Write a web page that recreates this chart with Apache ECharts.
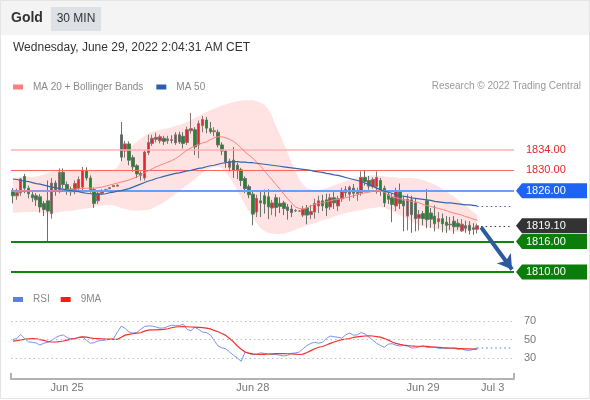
<!DOCTYPE html>
<html>
<head>
<meta charset="utf-8">
<script src="https://cdn.jsdelivr.net/npm/echarts@6/dist/echarts.min.js"></script>
<style>
  html, body { margin: 0; padding: 0; background: #fff; }
  #chart { width: 590px; height: 400px; }
</style>
</head>
<body>
<div id="chart"></div>
<script>
// 30 min gold candles
const opens = [
  1826.0, 1825.0, 1825.6, 1828.8, 1826.5, 1825.2, 1825.0, 1824.8, 1823.5, 1824.0,
  1821.5, 1827.5, 1826.0, 1829.6, 1827.2, 1826.3, 1825.8, 1826.4, 1826.7, 1830.0,
  1828.5, 1826.2, 1824.0, 1825.5, 1826.0, 1826.4, 1826.8, 1826.9, 1837.0, 1833.8,
  1835.2, 1832.5, 1830.9, 1829.4, 1828.5, 1833.5, 1835.3, 1836.1, 1835.8, 1836.3,
  1835.8, 1836.0, 1835.4, 1837.0, 1836.7, 1835.5, 1837.8, 1838.0, 1835.0, 1838.8,
  1839.9, 1838.2, 1837.6, 1837.5, 1835.0, 1833.8, 1830.6, 1832.0, 1831.0, 1830.1,
  1828.4, 1826.8, 1825.3, 1821.8, 1824.0, 1825.0, 1824.8, 1822.6, 1824.6, 1823.5,
  1823.6, 1822.8, 1822.4, 1822.0, 1822.0, 1821.2, 1822.6, 1821.3, 1821.8, 1823.0,
  1824.0, 1824.2, 1822.8, 1824.6, 1823.0, 1824.4, 1826.2, 1825.3, 1826.5, 1825.4,
  1825.6, 1828.6, 1828.0, 1826.8, 1826.8, 1828.0, 1826.5, 1825.2, 1824.6, 1823.0,
  1826.0, 1824.0, 1821.0, 1824.2, 1823.6, 1820.6, 1821.5, 1824.0, 1821.6, 1821.0,
  1819.9, 1820.5, 1819.8, 1819.4, 1820.0, 1819.6, 1818.1, 1819.1, 1819.2, 1818.7,
  1818.4
];
const closes = [
  1825.0, 1825.6, 1828.3, 1826.5, 1825.4, 1824.6, 1824.2, 1822.8, 1822.3, 1822.0,
  1827.5, 1826.0, 1829.6, 1827.2, 1826.0, 1825.8, 1827.4, 1828.2, 1830.0, 1828.5,
  1826.2, 1823.5, 1825.5, 1825.8, 1826.2, 1826.6, 1827.0, 1827.1, 1832.6, 1835.2,
  1832.0, 1830.7, 1829.3, 1829.0, 1833.6, 1835.5, 1836.3, 1836.5, 1836.6, 1835.7,
  1836.2, 1835.9, 1837.0, 1835.6, 1835.3, 1838.0, 1838.2, 1834.6, 1839.2, 1840.0,
  1838.3, 1837.6, 1837.8, 1835.0, 1833.8, 1831.6, 1831.8, 1830.0, 1830.1, 1828.0,
  1826.4, 1825.2, 1821.4, 1824.5, 1823.6, 1823.4, 1822.8, 1823.6, 1822.7, 1822.9,
  1822.5, 1822.1, 1821.7, 1822.1, 1822.0, 1822.4, 1821.2, 1821.9, 1823.5, 1824.0,
  1823.0, 1822.6, 1824.6, 1823.6, 1824.4, 1826.0, 1825.6, 1826.7, 1825.5, 1825.8,
  1828.6, 1827.8, 1826.9, 1828.2, 1828.6, 1826.2, 1823.6, 1824.3, 1823.3, 1826.0,
  1823.5, 1823.0, 1824.3, 1821.3, 1820.5, 1821.3, 1820.5, 1820.3, 1820.4, 1819.5,
  1820.5, 1819.5, 1819.2, 1819.3, 1818.9, 1818.9, 1819.4, 1818.6, 1818.2, 1818.4,
  1819.1
];
const lows = [
  1823.5, 1824.2, 1825.0, 1825.5, 1824.5, 1823.8, 1823.0, 1821.7, 1821.0, 1816.0,
  1820.5, 1825.0, 1825.5, 1826.5, 1825.2, 1825.0, 1825.3, 1825.8, 1826.0, 1828.0,
  1825.6, 1822.6, 1823.4, 1825.2, 1825.9, 1826.3, 1826.7, 1826.8, 1831.8, 1832.5,
  1831.0, 1829.7, 1828.5, 1828.0, 1828.0, 1833.0, 1834.8, 1835.5, 1835.3, 1835.0,
  1835.2, 1835.3, 1835.0, 1835.2, 1834.3, 1835.0, 1837.2, 1833.0, 1832.4, 1837.5,
  1837.3, 1837.2, 1836.7, 1834.5, 1833.0, 1830.5, 1829.8, 1828.5, 1828.3, 1826.9,
  1825.5, 1824.5, 1819.2, 1820.8, 1820.8, 1821.5, 1820.4, 1821.2, 1820.9, 1821.6,
  1821.2, 1820.3, 1820.8, 1821.8, 1821.9, 1820.8, 1819.4, 1820.4, 1820.5, 1821.6,
  1822.0, 1821.0, 1822.2, 1822.4, 1822.0, 1823.8, 1824.8, 1824.0, 1824.6, 1824.0,
  1825.0, 1827.0, 1826.2, 1826.4, 1825.4, 1825.0, 1822.8, 1823.4, 1819.8, 1822.0,
  1822.4, 1818.0, 1818.2, 1817.7, 1818.0, 1818.2, 1819.2, 1818.6, 1818.7, 1818.0,
  1818.6, 1817.8, 1817.7, 1818.3, 1817.5, 1818.3, 1817.9, 1817.7, 1817.4, 1817.3,
  1817.6
];
const highs = [
  1826.5, 1826.4, 1828.5, 1829.3, 1827.0, 1825.8, 1825.5, 1825.3, 1824.0, 1828.0,
  1828.5, 1828.0, 1830.4, 1830.4, 1827.8, 1826.8, 1828.0, 1828.8, 1830.7, 1830.6,
  1829.0, 1826.6, 1826.0, 1826.3, 1826.4, 1826.7, 1827.1, 1827.2, 1839.5, 1835.8,
  1835.7, 1833.0, 1831.2, 1829.8, 1834.0, 1837.0, 1837.0, 1837.4, 1837.0, 1836.8,
  1836.8, 1836.9, 1837.5, 1837.6, 1837.5, 1838.6, 1841.3, 1838.5, 1839.8, 1840.7,
  1840.5, 1839.5, 1838.5, 1838.0, 1835.5, 1834.0, 1832.3, 1834.6, 1831.5, 1830.5,
  1828.8, 1827.2, 1825.8, 1825.2, 1826.0, 1826.2, 1826.3, 1824.2, 1825.3, 1824.7,
  1824.0, 1823.4, 1823.2, 1822.4, 1822.2, 1823.0, 1823.2, 1823.2, 1824.4, 1825.0,
  1825.2, 1825.4, 1825.4, 1825.7, 1825.0, 1826.6, 1826.9, 1827.0, 1827.3, 1826.6,
  1829.8, 1830.1, 1828.9, 1828.6, 1829.8, 1828.5, 1827.0, 1826.0, 1825.5, 1826.6,
  1827.4, 1825.0, 1825.3, 1825.0, 1824.5, 1822.2, 1822.0, 1826.3, 1822.6, 1823.1,
  1821.8, 1821.5, 1821.0, 1820.8, 1821.0, 1820.4, 1820.4, 1820.1, 1820.0, 1819.6,
  1819.5
];

// moving averages and bands
const ma20 = [
  1825.9, 1825.9, 1826.0, 1826.0, 1826.0, 1825.9, 1825.9, 1825.9, 1825.9, 1825.9,
  1826.0, 1826.1, 1826.1, 1826.2, 1826.2, 1826.3, 1826.3, 1826.4, 1826.4, 1826.5,
  1826.5, 1826.5, 1826.6, 1826.7, 1826.9, 1827.1, 1827.3, 1827.5, 1827.7, 1827.9,
  1828.1, 1828.4, 1828.7, 1829.1, 1829.5, 1829.9, 1830.3, 1830.7, 1831.0, 1831.3,
  1831.6, 1831.9, 1832.3, 1832.8, 1833.4, 1834.0, 1834.4, 1834.8, 1835.1, 1835.4,
  1835.6, 1836.0, 1836.4, 1836.6, 1836.6, 1836.4, 1836.1, 1835.7, 1835.1, 1834.4,
  1833.6, 1833.0, 1832.4, 1831.6, 1830.8, 1829.9, 1829.0, 1828.1, 1827.2, 1826.3,
  1825.3, 1824.4, 1823.6, 1822.8, 1822.5, 1822.4, 1822.6, 1823.0, 1823.3, 1823.5,
  1823.6, 1823.8, 1824.0, 1824.2, 1824.3, 1824.5, 1824.6, 1824.8, 1825.0, 1825.2,
  1825.4, 1825.6, 1825.7, 1825.9, 1826.1, 1826.0, 1825.7, 1825.1, 1824.9, 1824.6,
  1824.4, 1824.3, 1824.1, 1823.9, 1823.8, 1823.6, 1823.3, 1823.1, 1822.9, 1822.7,
  1822.5, 1822.3, 1822.1, 1821.8, 1821.6, 1821.4, 1821.2, 1820.9, 1820.7, 1820.4,
  1820.2
];
const ma50 = [
  1828.3, 1828.2, 1828.0, 1827.9, 1827.8, 1827.6, 1827.4, 1827.3, 1827.1, 1826.9,
  1826.7, 1826.6, 1826.4, 1826.3, 1826.1, 1826.0, 1825.9, 1825.8, 1825.6, 1825.5,
  1825.4, 1825.4, 1825.3, 1825.3, 1825.4, 1825.6, 1825.7, 1825.9, 1826.0, 1826.2,
  1826.4, 1826.7, 1827.0, 1827.3, 1827.6, 1827.9, 1828.1, 1828.4, 1828.6, 1828.8,
  1829.0, 1829.2, 1829.4, 1829.5, 1829.7, 1829.9, 1830.0, 1830.2, 1830.4, 1830.5,
  1830.7, 1830.9, 1831.0, 1831.2, 1831.4, 1831.5, 1831.6, 1831.7, 1831.7, 1831.6,
  1831.6, 1831.5, 1831.5, 1831.4, 1831.3, 1831.2, 1831.1, 1831.0, 1830.9, 1830.8,
  1830.7, 1830.6, 1830.5, 1830.4, 1830.3, 1830.2, 1830.1, 1830.0, 1829.8, 1829.7,
  1829.6, 1829.4, 1829.3, 1829.1, 1829.0, 1828.8, 1828.6, 1828.4, 1828.2, 1828.0,
  1827.8, 1827.5, 1827.2, 1826.9, 1826.5, 1826.2, 1825.9, 1825.7, 1825.5, 1825.2,
  1825.0, 1824.9, 1824.8, 1824.6, 1824.5, 1824.4, 1824.3, 1824.2, 1824.1, 1823.9,
  1823.8, 1823.7, 1823.6, 1823.6, 1823.5, 1823.4, 1823.3, 1823.2, 1823.2, 1823.1,
  1823.0
];
const bbUpper = [
  1828.5, 1828.6, 1828.7, 1828.8, 1828.8, 1828.7, 1828.8, 1829.0, 1829.2, 1829.5,
  1829.7, 1829.8, 1829.9, 1830.0, 1830.1, 1830.1, 1830.2, 1830.2, 1830.2, 1830.1,
  1830.1, 1830.0, 1830.0, 1829.9, 1829.9, 1829.9, 1830.0, 1830.6, 1832.0, 1833.3,
  1834.4, 1835.0, 1835.6, 1836.2, 1836.8, 1837.3, 1837.6, 1837.8, 1838.0, 1838.1,
  1838.3, 1838.5, 1838.7, 1838.9, 1839.2, 1839.5, 1839.9, 1840.3, 1840.7, 1841.1,
  1841.5, 1841.8, 1842.1, 1842.4, 1842.7, 1843.0, 1843.2, 1843.4, 1843.6, 1843.7,
  1843.8, 1843.8, 1843.8, 1843.6, 1843.3, 1842.9, 1842.0, 1840.6, 1838.6, 1837.0,
  1835.3, 1833.4, 1831.5, 1829.8, 1828.2, 1827.2, 1826.5, 1826.2, 1826.0, 1826.1,
  1826.3, 1826.5, 1826.8, 1827.0, 1827.3, 1827.6, 1827.9, 1828.1, 1828.4, 1828.6,
  1828.8, 1828.9, 1829.0, 1829.0, 1829.0, 1828.9, 1828.8, 1828.7, 1828.7, 1828.6,
  1828.5, 1828.5, 1828.5, 1828.5, 1828.4, 1828.3, 1828.1, 1827.8, 1827.5, 1827.2,
  1826.8, 1826.3, 1825.8, 1825.3, 1824.8, 1824.2, 1823.6, 1823.0, 1822.4, 1821.8,
  1821.2
];
const bbLower = [
  1821.6, 1821.7, 1821.7, 1821.8, 1821.8, 1821.8, 1821.8, 1821.7, 1821.6, 1821.4,
  1821.6, 1821.7, 1821.8, 1821.9, 1822.0, 1822.0, 1822.1, 1822.3, 1822.4, 1822.5,
  1822.6, 1822.8, 1823.0, 1823.1, 1823.2, 1823.2, 1823.1, 1822.9, 1822.6, 1822.4,
  1822.2, 1822.1, 1822.1, 1822.1, 1822.2, 1822.2, 1822.5, 1822.9, 1823.3, 1823.7,
  1824.2, 1824.8, 1825.4, 1826.0, 1826.6, 1827.1, 1827.7, 1828.3, 1828.9, 1829.5,
  1830.1, 1830.4, 1830.6, 1830.7, 1830.4, 1829.7, 1828.6, 1827.4, 1826.0, 1824.6,
  1823.2, 1821.9, 1820.7, 1819.6, 1818.6, 1818.0, 1817.7, 1817.6, 1817.5, 1817.5,
  1817.6, 1817.8, 1818.0, 1818.3, 1818.6, 1818.9, 1819.2, 1819.4, 1819.6, 1819.9,
  1820.2, 1820.4, 1820.6, 1820.9, 1821.1, 1821.4, 1821.6, 1821.8, 1821.9, 1822.1,
  1822.2, 1822.3, 1822.5, 1822.6, 1822.7, 1822.8, 1822.6, 1822.3, 1822.0, 1821.6,
  1821.2, 1820.8, 1820.4, 1820.0, 1819.6, 1819.2, 1819.0, 1818.8, 1818.7, 1818.5,
  1818.3, 1818.2, 1818.1, 1818.0, 1817.9, 1817.9, 1817.9, 1818.0, 1818.1, 1818.2,
  1818.3
];

// RSI panel
const rsi = [
  50, 51.1, 55.5, 51.1, 47.5, 47, 46.2, 44, 46, 47,
  49, 52, 54, 55, 52, 50.8, 51, 52, 53, 49,
  46, 46.5, 48.5, 49, 49.5, 50, 51, 58, 64.5, 62,
  58, 57, 57.5, 61, 64, 64.7, 64.5, 63.5, 62.3, 62.5,
  64, 65.5, 65, 65, 66.5, 61, 59.5, 63.2, 61, 58,
  57.5, 55, 49, 43, 41, 40, 36.5, 33, 30, 26.4,
  36.5, 34.7, 33.5, 34, 35.6, 35, 34.3, 34, 33.8, 33,
  32.2, 33, 35, 35.5, 36.5, 40, 43.5, 45.8, 47, 46,
  47, 51, 53.8, 53, 52.5, 51.5, 55, 57, 54.7, 55,
  57.5, 56, 52.5, 49.3, 46, 43.5, 41.6, 45, 45.5, 43.8,
  43, 43.5, 43, 40.8, 41, 42, 43.2, 41.5, 41.7, 41.6,
  40.5, 40.5, 40.2, 40.5, 40.5, 39.3, 39.8, 38.5, 38, 39.5,
  41
];
const rsiMa9 = [
  48.2, 48.8, 49.5, 50.2, 50.7, 51.1, 50.8, 49.8, 49, 47.8,
  47.3, 47.3, 47.6, 48.4, 49.3, 50.4, 51.1, 52.2, 52.9, 52.6,
  51.8, 51.1, 50.9, 50.7, 50.4, 50.3, 50.1, 50.2, 52.5, 54.7,
  55.5, 56.2, 56.8, 57.3, 59, 60.2, 60.4, 60.5, 60.7, 60.9,
  61.6, 62.7, 63.5, 63.8, 63.9, 63.8, 63.5, 63.3, 63.1, 62.8,
  62.2, 61.5, 59.8, 58.4, 56.5, 54.5, 51, 47.5, 43, 39.5,
  36.5, 35.2, 34.5, 34.2, 34, 34, 34.3, 34.5, 34.7, 34.8,
  34.7, 34.6, 34.5, 34.2, 33.8, 34.2, 36, 38, 40, 41.6,
  42.4, 44, 45.8, 47.3, 48.6, 49.8, 50.4, 51.1, 52.2, 52.9,
  53.4, 53.8, 54, 53.8, 53.2, 52.6, 51, 49.3, 47.3, 45.8,
  44.7, 44, 43.4, 43, 42.8, 42.7, 42.7, 42.5, 42.1, 41.8,
  41.5, 41.2, 41, 40.8, 40.6, 40.3, 40.1, 39.9, 39.8, 39.6,
  39.5
];
const rsiLevels = [30, 50, 70];

// key levels and time labels
const resistanceLevels = [1834, 1830];
const pivotLevel = 1826;
const supportLevels = [1816, 1810];
const targetLevel = 1810;
const dayLabels = ['Jun 25', 'Jun 28', 'Jun 29', 'Jul 3'];
const dayLabelSlots = [14, 62, 106, 124];
const slotCount = 130;

const FONT = 'Liberation Sans, Arial, sans-serif';
const lastIdx = closes.length - 1;
const lastPrice = closes[lastIdx];
const slots = [];
for (let i = 0; i < slotCount; i++) slots.push(String(i));

const candleData = opens.map((o, i) => [o, closes[i], lows[i], highs[i]]);
const bandWidth = bbUpper.map((u, i) => +(u - bbLower[i]).toFixed(2));

const dotted = [1.5, 3];

const option = {
  animation: false,
  backgroundColor: '#fff',
  textStyle: { fontFamily: FONT },
  legend: [
    {
      left: 8, top: 77, icon: 'rect', itemWidth: 10, itemHeight: 5, itemGap: 13,
      selectedMode: false,
      textStyle: { color: '#888', fontSize: 10, fontFamily: FONT, padding: [0, 0, 0, 5] },
      data: ['MA 20 + Bollinger Bands', 'MA 50']
    },
    {
      left: 8, top: 289.5, icon: 'rect', itemWidth: 10, itemHeight: 5, itemGap: 11,
      selectedMode: false,
      textStyle: { color: '#888', fontSize: 10, fontFamily: FONT, padding: [0, 0, 0, 5] },
      data: ['RSI', '9MA']
    }
  ],
  grid: [
    { left: 11, right: 76, top: 89, height: 193.2 },
    { left: 11, right: 76, top: 302.5, height: 74 }
  ],
  xAxis: [
    { type: 'category', gridIndex: 0, data: slots, show: false },
    {
      type: 'category', gridIndex: 1, data: slots, offset: 2.5,
      axisLine: { lineStyle: { color: '#b3b3b3', width: 2 } },
      axisTick: {
        show: true, inside: true, length: 6,
        lineStyle: { color: '#b3b3b3', width: 2 },
        interval: (idx) => idx === 0
      },
      axisLabel: {
        color: '#777', fontSize: 11, fontFamily: FONT, margin: 3,
        interval: (idx) => dayLabelSlots.indexOf(idx) >= 0,
        formatter: (v, idx) => {
          const k = dayLabelSlots.indexOf(idx);
          return k >= 0 ? dayLabels[k] : '';
        }
      },
      splitLine: { show: false }
    }
  ],
  yAxis: [
    { type: 'value', gridIndex: 0, min: 1808, max: 1846, show: false, splitLine: { show: false } },
    { type: 'value', gridIndex: 1, min: 10, max: 90, show: false, splitLine: { show: false } }
  ],
  series: [
    {
      name: 'bbLower', type: 'line', xAxisIndex: 0, yAxisIndex: 0, stack: 'bb',
      data: bbLower, symbol: 'none', silent: true, lineStyle: { opacity: 0 }, z: 1
    },
    {
      name: 'bbBand', type: 'line', xAxisIndex: 0, yAxisIndex: 0, stack: 'bb',
      data: bandWidth, symbol: 'none', silent: true,
      lineStyle: { opacity: 0 }, areaStyle: { color: '#ffe2e2', opacity: 1 }, z: 1
    },
    {
      name: 'Gold', type: 'candlestick', xAxisIndex: 0, yAxisIndex: 0,
      data: candleData, barWidth: 3, z: 3,
      itemStyle: {
        color: '#e3262b', color0: '#1f8a2c',
        borderColor: '#8a7474', borderColor0: '#66726a', borderWidth: 1
      },
      markLine: {
        silent: true, symbol: ['none', 'none'], label: { show: false }, z: 4,
        data: [
          { yAxis: resistanceLevels[0], lineStyle: { color: '#ffb0b0', width: 1.5, type: 'solid' } },
          { yAxis: resistanceLevels[1], lineStyle: { color: '#ff6464', width: 1, type: 'solid' } },
          { yAxis: pivotLevel, lineStyle: { color: '#6b9cf6', width: 2, type: 'solid' } },
          { yAxis: supportLevels[0], lineStyle: { color: '#0b870b', width: 2, type: 'solid' } },
          { yAxis: supportLevels[1], lineStyle: { color: '#0b870b', width: 2, type: 'solid' } },
          [
            { coord: [lastIdx + 1, lastPrice], lineStyle: { color: '#333', width: 1, type: dotted } },
            { coord: [slotCount - 1, lastPrice] }
          ],
          [
            { coord: [lastIdx, ma50[lastIdx]], lineStyle: { color: '#3a64a8', width: 1, type: dotted } },
            { coord: [slotCount - 1, ma50[lastIdx]] }
          ],
          [
            { coord: [lastIdx + 1, lastPrice - 0.3], symbol: 'none',
              lineStyle: { color: '#2d5a9e', width: 4, type: 'solid' } },
            { coord: [slotCount - 1, targetLevel + 0.5], symbol: 'arrow', symbolSize: [13, 14] }
          ]
        ]
      }
    },
    {
      name: 'MA 20 + Bollinger Bands', type: 'line', xAxisIndex: 0, yAxisIndex: 0,
      data: ma20, symbol: 'none', color: '#ff7f7f', lineStyle: { color: '#ff8080', width: 1 }, z: 4
    },
    {
      name: 'MA 50', type: 'line', xAxisIndex: 0, yAxisIndex: 0,
      data: ma50, symbol: 'none', color: '#2d5ea8', lineStyle: { color: '#3a64a8', width: 1.2 }, z: 4
    },
    {
      name: 'RSI', type: 'line', xAxisIndex: 1, yAxisIndex: 1,
      data: rsi, symbol: 'none', color: '#5b7fe6', lineStyle: { color: '#7895ee', width: 1 }, z: 3,
      markLine: {
        silent: true, symbol: ['none', 'none'],
        label: {
          show: true, position: 'end', distance: 10, color: '#777', fontSize: 11, fontFamily: FONT,
          formatter: (p) => p.value
        },
        data: rsiLevels.map((v) => ({ yAxis: v, lineStyle: { color: '#bdbdbd', width: 1, type: dotted } })).concat([
          [
            { coord: [lastIdx, rsi[lastIdx]], label: { show: false },
              lineStyle: { color: '#8aa6f2', width: 1.5, type: dotted } },
            { coord: [slotCount - 1, rsi[lastIdx]] }
          ]
        ])
      }
    },
    {
      name: '9MA', type: 'line', xAxisIndex: 1, yAxisIndex: 1,
      data: rsiMa9, symbol: 'none', color: '#ff1a1a', lineStyle: { color: '#f23030', width: 1.2 }, z: 4
    }
  ]
};

const chart = echarts.init(document.getElementById('chart'));
chart.setOption(option);

// header texts and right side level tags
const graphics = [
  { type: 'rect', shape: { x: 0, y: 0, width: 590, height: 35 }, style: { fill: '#f4f4f4' }, silent: true },
  { type: 'rect', shape: { x: 0.5, y: 0.5, width: 589, height: 398 }, style: { fill: 'none', stroke: '#e4e4e4' }, silent: true },
  { type: 'text', x: 11, y: 18, style: { text: 'Gold', fill: '#333', font: 'bold 14px ' + FONT, verticalAlign: 'middle' } },
  { type: 'rect', shape: { x: 51, y: 7, width: 50, height: 24 }, style: { fill: '#dde0e4' } },
  { type: 'text', x: 76, y: 19, style: { text: '30 MIN', fill: '#333', font: '12px ' + FONT, align: 'center', verticalAlign: 'middle' } },
  { type: 'text', x: 13, y: 48, style: { text: 'Wednesday, June 29, 2022 2:04:31 AM CET', fill: '#333', font: '12px ' + FONT, verticalAlign: 'middle' } },
  { type: 'text', x: 581, y: 86, style: { text: 'Research \u00a9 2022 Trading Central', fill: '#999', font: '10px ' + FONT, align: 'right', verticalAlign: 'middle' } }
];

function addTag(value, boxColor, textColor) {
  const y = chart.convertToPixel({ yAxisIndex: 0 }, value);
  if (boxColor) {
    graphics.push({
      type: 'polygon',
      shape: { points: [[516, y], [522, y - 7.5], [587, y - 7.5], [587, y + 7.5], [522, y + 7.5]] },
      style: { fill: boxColor }
    });
  }
  graphics.push({
    type: 'text', x: 526, y: y,
    style: { text: value.toFixed(2), fill: textColor, font: '11px ' + FONT, verticalAlign: 'middle' }
  });
}
resistanceLevels.forEach((v) => addTag(v, null, '#e8262a'));
addTag(pivotLevel, '#1f63f2', '#fff');
addTag(lastPrice, '#333333', '#fff');
supportLevels.forEach((v) => addTag(v, '#0a7d0a', '#fff'));

chart.setOption({ graphic: graphics });
</script>
</body>
</html>
